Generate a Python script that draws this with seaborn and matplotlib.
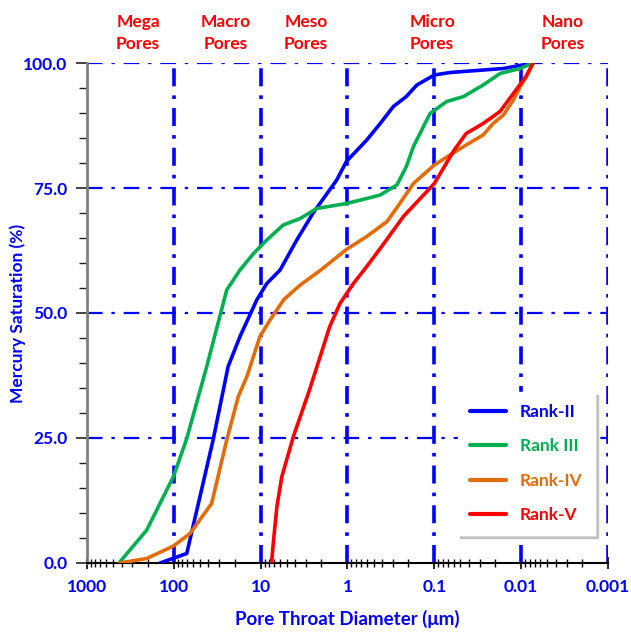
import numpy as np
import pandas as pd
import matplotlib
matplotlib.use("Agg")
import matplotlib.pyplot as plt
from matplotlib.ticker import FixedLocator, LogLocator, NullFormatter
import seaborn as sns

# Capillary pressure curves: pore throat diameter (um) vs. mercury saturation (%)
rank2_d = [144, 71, 35.3, 23.7, 17.3, 11.1, 8.5, 5.97, 3.84, 2.49, 1.33, 1.03,
           0.6, 0.42, 0.296, 0.21, 0.159, 0.1, 0.066, 0.0274, 0.0161, 0.0073]
rank2_s = [0.0, 1.9, 24.6, 39.3, 45.3, 52.6, 55.9, 58.6, 64.6, 70.0, 76.6, 80.3,
           84.6, 87.9, 91.3, 93.3, 95.6, 97.6, 98.1, 98.6, 98.9, 100.0]

rank3_d = [428, 205, 101, 71, 41.8, 24.6, 17.3, 12.1, 8.5, 5.5, 3.5, 2.27, 1.03,
           0.6, 0.42, 0.27, 0.21, 0.174, 0.112, 0.072, 0.046, 0.0274, 0.0175,
           0.0103, 0.0073]
rank3_s = [0.0, 6.6, 17.3, 24.9, 39.3, 54.6, 58.6, 61.9, 64.6, 67.6, 68.9, 70.9,
           71.9, 72.9, 73.6, 75.6, 79.3, 83.3, 89.9, 92.3, 93.3, 95.6, 97.9,
           98.9, 100.0]

rank4_d = [420, 205, 101, 65, 36.7, 24.6, 18.1, 14.4, 10.2, 7.8, 5.4, 3.5, 2.1,
           1.03, 0.6, 0.35, 0.25, 0.174, 0.1, 0.066, 0.043, 0.0274, 0.021,
           0.016, 0.0123, 0.01, 0.0083, 0.0073]
rank4_s = [0.0, 0.9, 3.4, 5.9, 11.9, 24.6, 33.3, 37.3, 45.3, 48.6, 52.7, 55.6,
           58.4, 62.7, 65.3, 68.3, 71.9, 75.9, 79.6, 81.6, 83.6, 85.6, 87.9,
           89.6, 92.6, 95.6, 97.9, 100.0]

rank5_d = [7.5, 7.1, 6.5, 5.7, 4.2, 2.74, 1.6, 1.22, 0.855, 0.6, 0.42, 0.227,
           0.1, 0.059, 0.043, 0.0274, 0.0175, 0.0123, 0.0088, 0.0073]
rank5_s = [0.0, 4.6, 11.3, 17.3, 25.3, 34.6, 47.3, 51.9, 55.9, 59.3, 62.9, 69.3,
           75.9, 82.6, 85.9, 87.9, 90.3, 93.9, 97.3, 100.0]

ranks = ["Rank-II", "Rank III", "Rank-IV", "Rank-V"]
colors = ["#0000FF", "#00B050", "#E36C09", "#FF0000"]

pore_classes = ["Mega\nPores", "Macro\nPores", "Meso\nPores", "Micro\nPores", "Nano\nPores"]
pore_class_pos = [258, 25, 3.0, 0.106, 0.0033]

x_ticks = [1000, 100, 10, 1, 0.1, 0.01, 0.001]
x_ticklabels = ["1000", "100", "10", "1", "0.1", "0.01", "0.001"]
y_ticks = [0, 25, 50, 75, 100]
y_ticklabels = ["0.0", "25.0", "50.0", "75.0", "100.0"]

frames = []
for name, d, s in zip(ranks, [rank2_d, rank3_d, rank4_d, rank5_d],
                      [rank2_s, rank3_s, rank4_s, rank5_s]):
    frames.append(pd.DataFrame({"diameter": d, "saturation": s, "rank": name}))
df = pd.concat(frames, ignore_index=True)

sns.set_style("white")
plt.rcParams["font.family"] = ["Lato", "DejaVu Sans"]
plt.rcParams["font.weight"] = "bold"

fig = plt.figure(figsize=(6.31, 6.32), dpi=100)
ax = fig.add_axes([0.1379, 0.1092, 0.9635 - 0.1379, 0.9003 - 0.1092])

# dash-dot grid
blue = "#0000FF"
for xv in [100, 10, 1, 0.1, 0.01, 0.001]:
    ax.axvline(xv, color=blue, lw=2.6, ls=(0, (5, 2.5, 1, 2.5)), zorder=1)
for yv in [25, 50, 75, 100]:
    ax.axhline(yv, color=blue, lw=1.6, ls=(0, (7, 4, 1.5, 4)), zorder=1)

sns.lineplot(data=df, x="diameter", y="saturation", hue="rank", hue_order=ranks,
             palette=colors, sort=False, estimator=None, units="rank",
             lw=2.6, ax=ax, zorder=3, legend=True)

ax.set_xscale("log")
ax.set_xlim(1000, 0.001)
ax.set_ylim(0, 100)

ax.xaxis.set_major_locator(FixedLocator(x_ticks))
ax.set_xticklabels(x_ticklabels)
ax.xaxis.set_minor_locator(LogLocator(base=10, subs=np.arange(2, 10)))
ax.xaxis.set_minor_formatter(NullFormatter())
ax.yaxis.set_major_locator(FixedLocator(y_ticks))
ax.set_yticklabels(y_ticklabels)
ax.yaxis.set_minor_locator(FixedLocator(np.arange(0, 101, 5)))

ax.tick_params(axis="x", which="major", direction="inout", length=9, width=1.2,
               color="black", labelcolor=blue, labelsize=12.5, pad=7, bottom=True)
ax.tick_params(axis="x", which="minor", direction="inout", length=6, width=1.0,
               color="black", bottom=True)
ax.tick_params(axis="y", which="major", direction="out", length=8, width=1.2,
               color="#222222", labelcolor=blue, labelsize=12.5, pad=6, left=True)
ax.tick_params(axis="y", which="minor", direction="out", length=6, width=1.0,
               color="#222222", left=True)
for lab in ax.get_xticklabels() + ax.get_yticklabels():
    lab.set_fontweight("bold")

for side in ["top", "right"]:
    ax.spines[side].set_visible(False)
ax.spines["left"].set_color("#808080")
ax.spines["left"].set_linewidth(2.0)
ax.spines["bottom"].set_color("black")
ax.spines["bottom"].set_linewidth(1.5)

ax.set_xlabel("Pore Throat Diameter (\u03bcm)", color=blue, fontsize=13.5,
              fontweight="bold", labelpad=11)
ax.set_ylabel("Mercury Saturation (%)", color=blue, fontsize=12.5,
              fontweight="bold")
ax.yaxis.set_label_coords(-0.117, 0.5)

for label, xv in zip(pore_classes, pore_class_pos):
    ax.text(xv, 1.06, label, transform=ax.get_xaxis_transform(), ha="center",
            va="center", color="#FF0000", fontsize=12.5, fontweight="bold",
            linespacing=1.4)

leg = ax.legend(loc="lower right", bbox_to_anchor=(0.975, 0.056), frameon=True,
                fancybox=False, shadow={"color": "0.55", "alpha": 0.45},
                fontsize=12.5, handlelength=2.1, handletextpad=0.8,
                labelspacing=1.05, borderpad=0.7, borderaxespad=0)
leg.get_frame().set_edgecolor("white")
leg.get_frame().set_facecolor("white")
for txt, c in zip(leg.get_texts(), colors):
    txt.set_color(c)
    txt.set_fontweight("bold")
for h in leg.get_lines():
    h.set_linewidth(3)

fig.savefig("out.png", dpi=100)
